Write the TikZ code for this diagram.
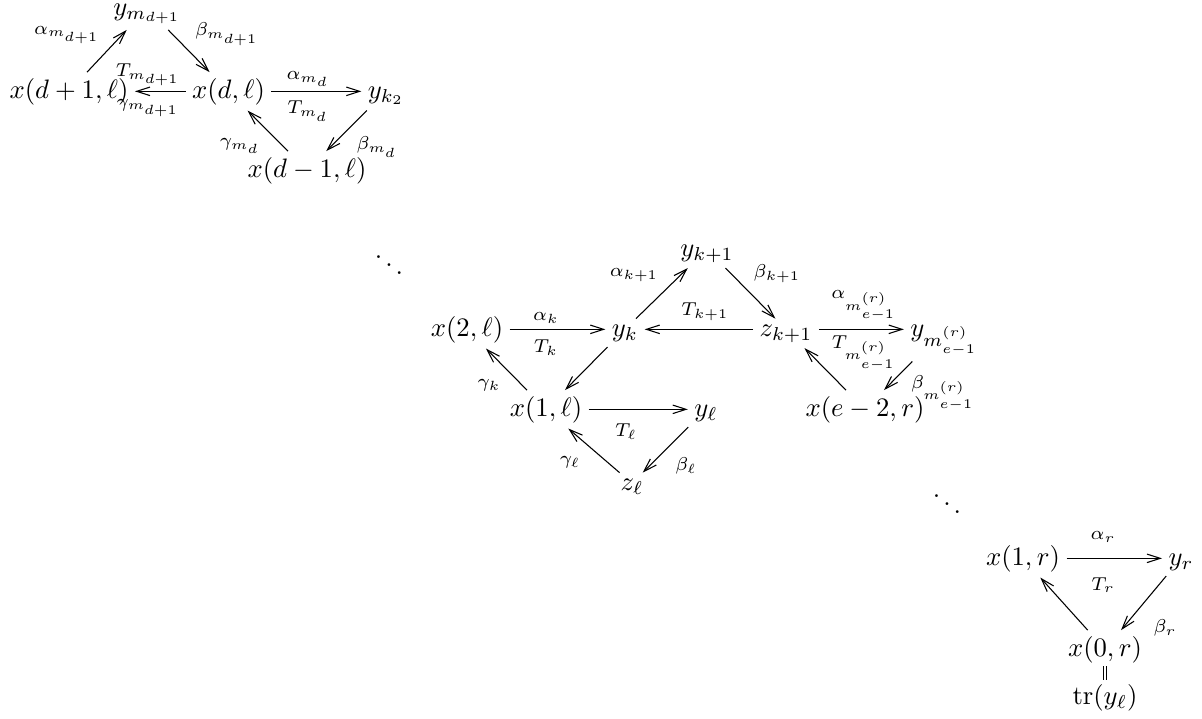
\documentclass[tikz,border=0pt]{standalone}
\usetikzlibrary{cd,arrows.meta}
\begin{document}
\begin{tikzpicture}[x=0.375pt,y=-0.375pt,
  obj/.style={shape=asymmetrical rectangle, anchor=base, inner xsep=2.25pt, inner ysep=2pt},
  arr/.style={-{Straight Barb[length=5pt,width=3.2pt]}, line width=0.4pt},
  lab/.style={inner sep=0pt},
  eqconn/.style={double, double distance=0.9pt, line width=0.4pt, shorten <=-0.8pt, shorten >=-0.8pt}]
\useasboundingbox (0,0) rectangle (1202,719);
% top-left cluster
\node[obj] (ymd1) at (147,15) {$y_{m_{d+1}}$};
\node[obj] (xd1) at (69,98) {$x(d+1,\ell)$};
\node[obj] (xd) at (228.5,98) {$x(d,\ell)$};
\node[obj] (yk2) at (386,98) {$y_{k_2}$};
\node[obj] (xdm1) at (307,177) {$x(d-1,\ell)$};
% dots
\node[inner sep=0pt] (dots1) at (389,257.5) {$\ddots$};
% middle cluster
\node[obj] (yk1) at (707,256) {$y_{k+1}$};
\node[obj] (x2l) at (467,336) {$x(2,\ell)$};
\node[obj] (yk) at (625,336) {$y_k$};
\node[obj] (zk1) at (786,336) {$z_{k+1}$};
\node[obj] (ym) at (944,336) {$y_{m^{(r)}_{e-1}}$};
\node[obj] (x1l) at (546,416) {$x(1,\ell)$};
\node[obj] (yl) at (706,416) {$y_\ell$};
\node[obj] (zl) at (632,490) {$z_\ell$};
\node[obj] (xe2) at (865,416) {$x(e-2,r)$};
\node[inner sep=0pt] (dots2) at (947,496.5) {$\ddots$};
% bottom-right cluster
\node[obj] (x1r) at (1023,565) {$x(1,r)$};
\node[obj] (yr) at (1181,565) {$y_r$};
\node[obj] (x0r) at (1105,656) {$x(0,r)$};
\node[obj] (tr) at (1105,704) {$\mathrm{tr}(y_\ell)$};

% connectors top-left
\draw[arr] (xd1) -- (ymd1) node[lab, at={(67,35)}] {$\scriptstyle\alpha_{m_{d+1}}$};
\draw[arr] (ymd1) -- (xd) node[lab, at={(227,34)}] {$\scriptstyle\beta_{m_{d+1}}$};
\draw[arr] (xd) -- (xd1)
  node[lab, at={(148,75)}] {$\scriptstyle T_{m_{d+1}}$}
  node[lab, at={(148,108)}] {$\scriptstyle\gamma_{m_{d+1}}$};
\draw[arr] (xd) -- (yk2)
  node[lab, at={(308,79)}] {$\scriptstyle\alpha_{m_d}$}
  node[lab, at={(308,111)}] {$\scriptstyle T_{m_d}$};
\draw[arr] (yk2) -- (xdm1) node[lab, at={(377,147)}] {$\scriptstyle\beta_{m_d}$};
\draw[arr] (xdm1) -- (xd) node[lab, at={(240,146)}] {$\scriptstyle\gamma_{m_d}$};

% connectors middle
\draw[arr] (x2l) -- (yk)
  node[lab, at={(546,318)}] {$\scriptstyle\alpha_k$}
  node[lab, at={(546,348)}] {$\scriptstyle T_k$};
\draw[arr] (yk) -- (yk1) node[lab, at={(634,275)}] {$\scriptstyle\alpha_{k+1}$};
\draw[arr] (yk1) -- (zk1) node[lab, at={(777,274)}] {$\scriptstyle\beta_{k+1}$};
\draw[arr] (zk1) -- (yk) node[lab, at={(705,312)}] {$\scriptstyle T_{k+1}$};
\draw[arr] (yk) -- (x1l);
\draw[arr] (x1l) -- (x2l) node[lab, at={(489,385)}] {$\scriptstyle\gamma_k$};
\draw[arr] (x1l) -- (yl) node[lab, at={(626,432)}] {$\scriptstyle T_\ell$};
\draw[arr] (yl) -- (zl) node[lab, at={(686,466)}] {$\scriptstyle\beta_\ell$};
\draw[arr] (zl) -- (x1l) node[lab, at={(570,462)}] {$\scriptstyle\gamma_\ell$};
\draw[arr] (zk1) -- (ym)
  node[lab, at={(864,306)}] {$\scriptstyle\alpha_{m^{(r)}_{e-1}}$}
  node[lab, at={(864,353)}] {$\scriptstyle T_{m^{(r)}_{e-1}}$};
\draw[arr] (ym) -- (xe2) node[lab, at={(943,393)}] {$\scriptstyle\beta_{m^{(r)}_{e-1}}$};
\draw[arr] (xe2) -- (zk1);

% connectors bottom-right
\draw[arr] (x1r) -- (yr)
  node[lab, at={(1103,537)}] {$\scriptstyle\alpha_r$}
  node[lab, at={(1103,585)}] {$\scriptstyle T_r$};
\draw[arr] (yr) -- (x0r) node[lab, at={(1165,628)}] {$\scriptstyle\beta_r$};
\draw[arr] (x0r) -- (x1r);
\draw[eqconn] (x0r) -- (tr);
\end{tikzpicture}
\end{document}
